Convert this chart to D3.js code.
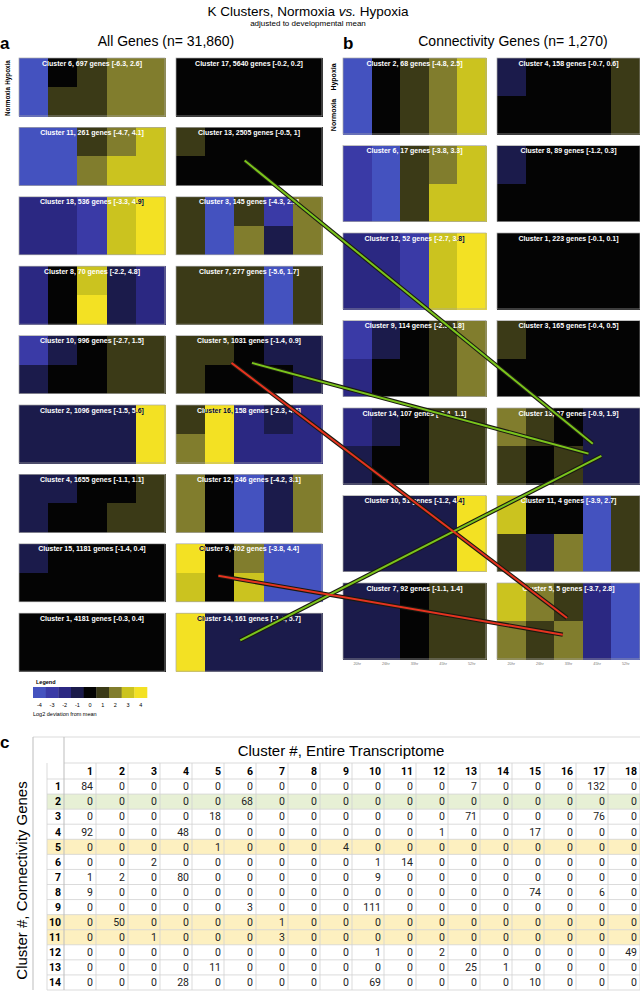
<!DOCTYPE html>
<html>
<head>
<meta charset="utf-8">
<script src="https://cdn.jsdelivr.net/npm/d3@7"></script>
<style>
  body { margin: 0; background: #fff; }
  svg { display: block; font-family: 'Liberation Sans', Arial, sans-serif; }
</style>
</head>
<body>
<div id="chart"></div>
<script>
// time points and conditions of every heatmap
const timeLabels = ['20hr', '26hr', '33hr', '45hr', '52hr'];
const conditions = ['Hypoxia', 'Normoxia'];

// legend (log2 deviation from mean)
const legendValues = [-4, -3, -2, -1, 0, 1, 2, 3, 4];
const legendColors = ['#4452bf', '#3a3aa6', '#2b2882', '#1b1b4b', '#040404', '#3b3a17', '#817d2d', '#cbc31f', '#f3e123'];

// panel a: all genes, left column top->bottom then right column
const aIds = [6, 11, 18, 8, 10, 2, 4, 15, 1, 17, 13, 3, 7, 5, 16, 12, 9, 14];
const aLabels = [
  'Cluster 6, 697 genes [-6.3, 2.6]',
  'Cluster 11, 261 genes [-4.7, 4.1]',
  'Cluster 18, 536 genes [-3.3, 4.9]',
  'Cluster 8, 70 genes [-2.2, 4.8]',
  'Cluster 10, 996 genes [-2.7, 1.5]',
  'Cluster 2, 1096 genes [-1.5, 5.6]',
  'Cluster 4, 1655 genes [-1.1, 1.1]',
  'Cluster 15, 1181 genes [-1.4, 0.4]',
  'Cluster 1, 4181 genes [-0.3, 0.4]',
  'Cluster 17, 5640 genes [-0.2, 0.2]',
  'Cluster 13, 2505 genes [-0.5, 1]',
  'Cluster 3, 145 genes [-4.3, 2.1]',
  'Cluster 7, 277 genes [-5.6, 1.7]',
  'Cluster 5, 1031 genes [-1.4, 0.9]',
  'Cluster 16, 158 genes [-2.3, 4.6]',
  'Cluster 12, 246 genes [-4.2, 3.1]',
  'Cluster 9, 402 genes [-3.8, 4.4]',
  'Cluster 14, 161 genes [-1.4, 5.7]'
];
const aHypoxia = [
  [-4, 0, 1, 2, 2], [-4, -4, 1, 2, 3], [-2, -2, -3, 3, 4], [-2, 0, 3, -1, -2], [-3, -1, 0, 1, 1],
  [-1, -1, -1, -1, 4], [-1, -1, 0, 0, 1], [-1, 0, 0, 0, 0], [0, 0, 0, 0, 0],
  [0, 0, 0, 0, 0], [1, 0, 0, 0, 0], [1, -4, 1, -3, 2], [1, 1, 1, -4, 1], [1, 1, 0, -1, -1],
  [1, 4, -2, -1, -2], [2, 0, -4, -1, 2], [4, 0, 2, -4, -4], [4, -1, -1, -1, -1]
];
const aNormoxia = [
  [-4, 1, 1, 2, 2], [-4, -4, 2, 3, 3], [-2, -2, -3, 3, 4], [-2, 0, 4, -1, -2], [-1, 0, 0, 1, 1],
  [-1, -1, -1, -1, 4], [-1, 0, 0, 1, 1], [0, 0, 0, 0, 0], [0, 0, 0, 0, 0],
  [0, 0, 0, 0, 0], [0, 0, 0, 0, 0], [1, -4, 2, -1, 2], [1, 1, 1, -4, 1], [1, 0, 0, 0, -1],
  [2, 4, -2, -2, -2], [2, 0, -4, -1, 2], [3, 0, 3, -4, -4], [4, -1, -1, -1, -1]
];

// panel b: connectivity genes
const bIds = [2, 6, 12, 9, 14, 10, 7, 4, 8, 1, 3, 13, 11, 5];
const bLabels = [
  'Cluster 2, 68 genes [-4.8, 2.5]',
  'Cluster 6, 17 genes [-3.8, 3.3]',
  'Cluster 12, 52 genes [-2.7, 3.8]',
  'Cluster 9, 114 genes [-2.3, 1.8]',
  'Cluster 14, 107 genes [-2.4, 1.1]',
  'Cluster 10, 51 genes [-1.2, 4.4]',
  'Cluster 7, 92 genes [-1.1, 1.4]',
  'Cluster 4, 158 genes [-0.7, 0.6]',
  'Cluster 8, 89 genes [-1.2, 0.3]',
  'Cluster 1, 223 genes [-0.1, 0.1]',
  'Cluster 3, 165 genes [-0.4, 0.5]',
  'Cluster 13, 37 genes [-0.9, 1.9]',
  'Cluster 11, 4 genes [-3.9, 2.7]',
  'Cluster 5, 5 genes [-3.7, 2.8]'
];
const bHypoxia = [
  [-4, 0, 1, 2, 3], [-3, -4, 1, 2, 3], [-2, -2, -3, 3, 4], [-3, -1, 0, 1, 2], [-2, -1, 0, 1, 1],
  [-1, -1, -1, -1, 4], [-1, -1, 0, 1, 1],
  [-1, 0, 0, 0, 1], [-1, 0, 0, 0, 0], [0, 0, 0, 0, 0], [1, 0, 0, 0, 0], [2, 1, 0, -1, -1],
  [3, 0, 0, -4, 1], [3, 2, 1, -2, -4]
];
const bNormoxia = [
  [-4, 0, 1, 2, 3], [-3, -4, 1, 3, 3], [-2, -2, -3, 3, 4], [-2, 0, 0, 1, 2], [-1, 0, 0, 1, 1],
  [-1, -1, -1, -1, 4], [-1, -1, 0, 1, 1],
  [0, 0, 0, 0, 1], [0, 0, 0, 0, 0], [0, 0, 0, 0, 0], [0, 0, 0, 0, 0], [1, 0, 1, -1, -1],
  [1, -1, 2, -4, 1], [2, 1, 2, -2, -4]
];

// connections drawn from a cluster of panel a to a cluster of panel b
const linkFrom = [13, 5, 14, 5, 9];
const linkTo = [13, 13, 13, 5, 5];
const linkKind = ['green', 'green', 'green', 'red', 'red'];
// anchor points as fractions of the heatmap box
const linkFromPos = [[0.47, 0.57], [0.52, 0.47], [0.44, 0.47], [0.38, 0.47], [0.29, 0.55]];
const linkToPos = [[0.67, 0.47], [0.64, 0.60], [0.73, 0.63], [0.49, 0.46], [0.46, 0.68]];

// panel c: overlap table, rows = connectivity clusters, cols = transcriptome clusters
const tableCols = d3.range(1, 19);
const tableRows = d3.range(1, 15);
const overlap = [
  [84, 0, 0, 0, 0, 0, 0, 0, 0, 0, 0, 0, 7, 0, 0, 0, 132, 0],
  [0, 0, 0, 0, 0, 68, 0, 0, 0, 0, 0, 0, 0, 0, 0, 0, 0, 0],
  [0, 0, 0, 0, 18, 0, 0, 0, 0, 0, 0, 0, 71, 0, 0, 0, 76, 0],
  [92, 0, 0, 48, 0, 0, 0, 0, 0, 0, 0, 1, 0, 0, 17, 0, 0, 0],
  [0, 0, 0, 0, 1, 0, 0, 0, 4, 0, 0, 0, 0, 0, 0, 0, 0, 0],
  [0, 0, 2, 0, 0, 0, 0, 0, 0, 1, 14, 0, 0, 0, 0, 0, 0, 0],
  [1, 2, 0, 80, 0, 0, 0, 0, 0, 9, 0, 0, 0, 0, 0, 0, 0, 0],
  [9, 0, 0, 0, 0, 0, 0, 0, 0, 0, 0, 0, 0, 0, 74, 0, 6, 0],
  [0, 0, 0, 0, 0, 3, 0, 0, 0, 111, 0, 0, 0, 0, 0, 0, 0, 0],
  [0, 50, 0, 0, 0, 0, 1, 0, 0, 0, 0, 0, 0, 0, 0, 0, 0, 0],
  [0, 0, 1, 0, 0, 0, 3, 0, 0, 0, 0, 0, 0, 0, 0, 0, 0, 0],
  [0, 0, 0, 0, 0, 0, 0, 0, 0, 1, 0, 2, 0, 0, 0, 0, 0, 49],
  [0, 0, 0, 0, 11, 0, 0, 0, 0, 0, 0, 0, 25, 1, 0, 0, 0, 0],
  [0, 0, 0, 28, 0, 0, 0, 0, 0, 69, 0, 0, 0, 0, 10, 0, 0, 0]
];
const greenRows = [2];
const yellowRows = [5, 10, 11];

const W = 640, H = 992;

const svg = d3.select('#chart')
  .append('svg')
  .attr('width', W)
  .attr('height', H)

const color = d3.scaleQuantize().domain([-4.5, 4.5]).range(legendColors)
const linkColor = { green: '#7ac41c', red: '#e5331f' }

// ---- headings
svg.append('text')
  .attr('x', 308).attr('y', 16)
  .attr('text-anchor', 'middle')
  .attr('font-size', 13.5)
  .call(t => {
    t.append('tspan').text('K Clusters, Normoxia ')
    t.append('tspan').attr('font-style', 'italic').text('vs.')
    t.append('tspan').text(' Hypoxia')
  })
svg.append('text')
  .attr('x', 308).attr('y', 26)
  .attr('text-anchor', 'middle')
  .attr('font-size', 8)
  .text('adjusted to developmental mean')

svg.append('text').attr('x', 0).attr('y', 49).attr('font-size', 17).attr('font-weight', 'bold').text('a')
svg.append('text').attr('x', 343).attr('y', 49).attr('font-size', 17).attr('font-weight', 'bold').text('b')
svg.append('text').attr('x', 166).attr('y', 46).attr('text-anchor', 'middle').attr('font-size', 14).text('All Genes (n= 31,860)')
svg.append('text').attr('x', 513).attr('y', 46).attr('text-anchor', 'middle').attr('font-size', 14).text('Connectivity Genes (n= 1,270)')

// ---- heatmap panels
const aLayout = { cols: [19, 176], width: 146, height: 58, top: 58, step: 69.4, rows: 9, font: 7, side: 6.3, sideX: 8 }
const bLayout = { cols: [343, 497], width: 143, height: 76, top: 58, step: 87.5, rows: 7, font: 7, side: 7, sideX: 334 }

const boxes = {}

function drawPanel(key, ids, labels, hyp, nor, L) {
  const rowY = d3.scaleLinear().domain([0, 1]).range([L.top, L.top + L.step])
  const x = d3.scaleBand().domain(timeLabels).range([0, L.width])
  const y = d3.scaleBand().domain(conditions).range([0, L.height])
  boxes[key] = {}

  ids.forEach((id, i) => {
    const col = Math.floor(i / L.rows)
    const row = i % L.rows
    const x0 = L.cols[col]
    const y0 = rowY(row)
    boxes[key][id] = { x0, y0, w: L.width, h: L.height }

    const cells = []
    timeLabels.forEach((t, j) => {
      cells.push({ t, c: 'Hypoxia', v: hyp[i][j] })
      cells.push({ t, c: 'Normoxia', v: nor[i][j] })
    })

    const g = svg.append('g').attr('transform', `translate(${x0},${y0})`)

    g.selectAll('rect.cell')
      .data(cells)
      .enter()
      .append('rect')
      .attr('class', 'cell')
      .attr('x', d => x(d.t))
      .attr('y', d => y(d.c))
      .attr('width', x.bandwidth() + 0.6)
      .attr('height', y.bandwidth() + 0.6)
      .attr('shape-rendering', 'crispEdges')
      .attr('fill', d => color(d.v))

    g.append('rect')
      .attr('width', L.width).attr('height', L.height)
      .attr('fill', 'none')
      .attr('stroke', '#a8a8a8')
      .attr('stroke-width', 0.7)

    // label: white, turning black where it sits on bright yellow
    const clipId = `clip-${key}-${i}`
    g.append('clipPath').attr('id', clipId)
      .selectAll('rect')
      .data(cells.filter(d => d.c === 'Hypoxia' && d.v >= 3.5))
      .enter()
      .append('rect')
      .attr('x', d => x(d.t))
      .attr('y', 0)
      .attr('width', x.bandwidth())
      .attr('height', y.bandwidth())

    const label = (fill, clip) => g.append('text')
      .attr('x', L.width / 2)
      .attr('y', 7.6)
      .attr('text-anchor', 'middle')
      .attr('font-size', L.font)
      .attr('font-weight', 'bold')
      .attr('fill', fill)
      .attr('clip-path', clip)
      .text(labels[i])
    label('#fff', null)
    label('#000', `url(#${clipId})`)

    // time axis under the bottom row of panel b
    if (key === 'b' && row === L.rows - 1) {
      const ax = g.append('g')
        .attr('transform', `translate(0,${L.height + 1})`)
        .call(d3.axisBottom(x).tickSize(0).tickPadding(2))
      ax.select('.domain').remove()
      ax.selectAll('text').attr('font-size', 3.8).attr('fill', '#777')
    }
  })

  // Hypoxia / Normoxia side labels
  conditions.forEach(c => {
    svg.append('text')
      .attr('transform', `translate(${L.sideX},${rowY(0) + y(c) + y.bandwidth() / 2}) rotate(-90)`)
      .attr('text-anchor', 'middle')
      .attr('dominant-baseline', 'middle')
      .attr('font-size', L.side)
      .attr('font-weight', 'bold')
      .text(c)
  })
}

drawPanel('a', aIds, aLabels, aHypoxia, aNormoxia, aLayout)
drawPanel('b', bIds, bLabels, bHypoxia, bNormoxia, bLayout)

// ---- connection lines (outlined)
const linkData = linkFrom.map((f, i) => {
  const A = boxes.a[f], B = boxes.b[linkTo[i]]
  return {
    x1: A.x0 + linkFromPos[i][0] * A.w, y1: A.y0 + linkFromPos[i][1] * A.h,
    x2: B.x0 + linkToPos[i][0] * B.w, y2: B.y0 + linkToPos[i][1] * B.h,
    kind: linkKind[i]
  }
})
const linkG = svg.append('g')
linkG.selectAll('.outline')
  .data(linkData)
  .enter()
  .append('line')
  .attr('x1', d => d.x1).attr('y1', d => d.y1)
  .attr('x2', d => d.x2).attr('y2', d => d.y2)
  .attr('stroke', '#1a1a10')
  .attr('stroke-width', 4.2)
linkG.selectAll('.core')
  .data(linkData)
  .enter()
  .append('line')
  .attr('x1', d => d.x1).attr('y1', d => d.y1)
  .attr('x2', d => d.x2).attr('y2', d => d.y2)
  .attr('stroke', d => linkColor[d.kind])
  .attr('stroke-width', 2)

// ---- legend
const legX = d3.scaleBand().domain(legendValues).range([33, 147])
svg.append('text').attr('x', 36).attr('y', 684).attr('font-size', 5.5).attr('font-weight', 'bold').text('Legend')
svg.selectAll('.leg')
  .data(legendValues)
  .enter()
  .append('rect')
  .attr('x', d => legX(d))
  .attr('y', 687)
  .attr('width', legX.bandwidth() + 0.3)
  .attr('height', 11)
  .attr('fill', d => color(d))
svg.selectAll('.legt')
  .data(legendValues)
  .enter()
  .append('text')
  .attr('x', d => legX(d) + legX.bandwidth() / 2)
  .attr('y', 707)
  .attr('text-anchor', 'middle')
  .attr('font-size', 5.5)
  .text(d => d)
svg.append('text').attr('x', 33).attr('y', 716).attr('font-size', 5.5).text('Log2 deviation from mean')

// ---- panel c table
svg.append('text').attr('x', 0).attr('y', 748).attr('font-size', 17).attr('font-weight', 'bold').text('c')

const tTop = 737, headTop = 763, rowsTop = 779, rowsBottom = 990
const xCol = d3.scaleBand().domain(tableCols).range([64, 640])
const yRow = d3.scaleBand().domain(tableRows).range([rowsTop, rowsBottom])
const labelX0 = 47

// highlighted rows
svg.selectAll('.hl')
  .data(tableRows.filter(r => greenRows.includes(r) || yellowRows.includes(r)))
  .enter()
  .append('rect')
  .attr('x', labelX0)
  .attr('y', d => yRow(d))
  .attr('width', 640 - labelX0)
  .attr('height', yRow.bandwidth())
  .attr('fill', d => greenRows.includes(d) ? '#e7f0d5' : '#fdf0c0')

// grid
const gridColor = '#d2d2d2'
svg.selectAll('.hline')
  .data(d3.range(tableRows.length + 1))
  .enter()
  .append('line')
  .attr('x1', labelX0).attr('x2', 640)
  .attr('y1', i => rowsTop + i * yRow.step()).attr('y2', i => rowsTop + i * yRow.step())
  .attr('stroke', gridColor).attr('stroke-width', 0.8)
svg.append('line').attr('x1', 64).attr('x2', 640).attr('y1', headTop).attr('y2', headTop).attr('stroke', gridColor).attr('stroke-width', 0.8)
svg.append('line').attr('x1', 33).attr('x2', 640).attr('y1', tTop).attr('y2', tTop).attr('stroke', gridColor).attr('stroke-width', 0.8)
svg.selectAll('.vline')
  .data(tableCols)
  .enter()
  .append('line')
  .attr('x1', d => xCol(d) + xCol.bandwidth()).attr('x2', d => xCol(d) + xCol.bandwidth())
  .attr('y1', headTop).attr('y2', rowsBottom)
  .attr('stroke', gridColor).attr('stroke-width', 0.8)
svg.append('line').attr('x1', 64).attr('x2', 64).attr('y1', tTop).attr('y2', rowsBottom).attr('stroke', '#bdbdbd').attr('stroke-width', 1)
svg.append('line').attr('x1', 33).attr('x2', 33).attr('y1', tTop).attr('y2', rowsBottom).attr('stroke', '#bdbdbd').attr('stroke-width', 1)
svg.append('line').attr('x1', labelX0).attr('x2', labelX0).attr('y1', headTop).attr('y2', rowsBottom).attr('stroke', gridColor).attr('stroke-width', 0.8)

const tableFont = "'Liberation Sans Narrow', 'Roboto', sans-serif"

svg.append('text')
  .attr('x', 341).attr('y', 756)
  .attr('text-anchor', 'middle')
  .attr('font-size', 15)
  .text('Cluster #, Entire Transcriptome')

svg.append('text')
  .attr('transform', `translate(23,${(rowsTop + rowsBottom) / 2 - 4}) rotate(-90)`)
  .attr('text-anchor', 'middle')
  .attr('dominant-baseline', 'middle')
  .attr('font-size', 15)
  .text('Cluster #, Connectivity Genes')

// header numbers
svg.selectAll('.colhead')
  .data(tableCols)
  .enter()
  .append('text')
  .attr('x', d => xCol(d) + xCol.bandwidth() - 3)
  .attr('y', headTop + 12)
  .attr('text-anchor', 'end')
  .attr('font-family', tableFont)
  .attr('font-weight', 'bold')
  .attr('font-size', 10.5)
  .text(d => d)

// row labels
svg.selectAll('.rowhead')
  .data(tableRows)
  .enter()
  .append('text')
  .attr('x', 61)
  .attr('y', d => yRow(d) + yRow.bandwidth() / 2 + 3.8)
  .attr('text-anchor', 'end')
  .attr('font-family', tableFont)
  .attr('font-weight', 'bold')
  .attr('font-size', 10.5)
  .text(d => d)

// cell values
const cellData = []
tableRows.forEach((r, i) => tableCols.forEach((c, j) => cellData.push({ r, c, v: overlap[i][j] })))
svg.selectAll('.val')
  .data(cellData)
  .enter()
  .append('text')
  .attr('x', d => xCol(d.c) + xCol.bandwidth() - 3)
  .attr('y', d => yRow(d.r) + yRow.bandwidth() / 2 + 3.8)
  .attr('text-anchor', 'end')
  .attr('font-family', tableFont)
  .attr('font-size', 10.5)
  .attr('fill', '#222')
  .text(d => d.v)
</script>
</body>
</html>
